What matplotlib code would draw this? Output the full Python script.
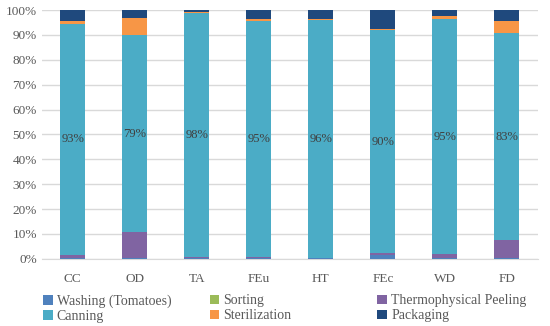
import matplotlib
matplotlib.use('Agg')
import matplotlib.pyplot as plt
import numpy as np

categories = ['CC', 'OD', 'TA', 'FEu', 'HT', 'FEc', 'WD', 'FD']
washing = [0.3, 0.2, 0.3, 0.2, 0.2, 1.4, 0.2, 0.2]
sorting = [0.1, 0.1, 0.1, 0.1, 0.1, 0.1, 0.1, 0.1]
peeling = [1.3, 10.4, 0.3, 0.6, 0.1, 0.7, 1.6, 7.1]
canning = [92.9, 79.3, 98.2, 94.8, 95.8, 89.8, 94.5, 83.2]
sterilization = [1.0, 6.9, 0.4, 0.7, 0.2, 0.3, 1.3, 5.1]
packaging = [4.4, 3.1, 0.7, 3.6, 3.6, 7.7, 2.3, 4.3]
canning_labels = ['93%', '79%', '98%', '95%', '96%', '90%', '95%', '83%']

series = [
    ('Washing (Tomatoes)', washing, '#4F81BD'),
    ('Sorting', sorting, '#9BBB59'),
    ('Thermophysical Peeling', peeling, '#8064A2'),
    ('Canning', canning, '#4BACC6'),
    ('Sterilization', sterilization, '#F79646'),
    ('Packaging', packaging, '#1F497D'),
]

plt.rcParams['font.family'] = ['Liberation Serif', 'DejaVu Serif']

fig = plt.figure(figsize=(5.5, 3.26), dpi=100)
ax = fig.add_axes([0.076, 0.206, 0.902, 0.763])

x = np.arange(len(categories))
bottom = np.zeros(len(categories))
handles = []
for name, vals, color in series:
    vals = np.array(vals)
    h = ax.bar(x, vals, 0.4, bottom=bottom, color=color, label=name, zorder=3)
    handles.append(h)
    if name == 'Canning':
        for i in range(len(x)):
            ax.text(x[i], bottom[i] + vals[i] / 2, canning_labels[i], ha='center', va='center',
                    fontsize=9, color='#404040', zorder=4)
    bottom += vals

ax.set_xlim(-0.5, len(categories) - 0.5)
ax.set_ylim(0, 100)
ax.set_yticks(range(0, 101, 10))
ax.set_yticklabels(['{}%'.format(v) for v in range(0, 101, 10)])
ax.set_xticks(x)
ax.set_xticklabels(categories)
ax.tick_params(axis='both', length=0, colors='#595959', labelsize=9.5)
ax.tick_params(axis='x', pad=10)
ax.grid(axis='y', color='#D9D9D9', linewidth=1, zorder=0)
for s in ['top', 'right', 'left']:
    ax.spines[s].set_visible(False)
ax.spines['bottom'].set_color('#D9D9D9')

# legend: 3 equal-width columns, row-major order
col_x = [0.078, 0.381, 0.686]
for c in range(3):
    hs = [handles[c], handles[c + 3]]
    labs = [series[c][0], series[c + 3][0]]
    leg = fig.legend(hs, labs, loc='upper left', bbox_to_anchor=(col_x[c], 0.097),
                     frameon=False, fontsize=10, handlelength=0.7, handleheight=0.7,
                     handletextpad=0.3, labelspacing=0.15, labelcolor='#595959',
                     borderpad=0, borderaxespad=0)

fig.savefig('out.png', dpi=100)
